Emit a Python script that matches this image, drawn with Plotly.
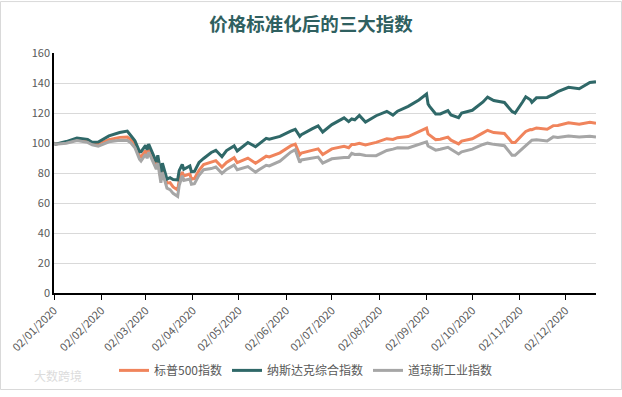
import plotly.graph_objects as go

dates = ["2020-01-02","2020-01-03","2020-01-10","2020-01-17","2020-01-24","2020-01-27","2020-01-31",
"2020-02-07","2020-02-14","2020-02-19","2020-02-21","2020-02-24","2020-02-27","2020-02-28",
"2020-03-02","2020-03-03","2020-03-04","2020-03-06","2020-03-09","2020-03-10","2020-03-12","2020-03-13",
"2020-03-16","2020-03-18","2020-03-20","2020-03-23","2020-03-24","2020-03-26","2020-03-27","2020-03-31",
"2020-04-01","2020-04-03","2020-04-06","2020-04-09","2020-04-14","2020-04-17","2020-04-21","2020-04-24","2020-04-29",
"2020-05-01","2020-05-08","2020-05-13","2020-05-15","2020-05-20","2020-05-22","2020-05-29",
"2020-06-05","2020-06-08","2020-06-11","2020-06-12","2020-06-19","2020-06-23","2020-06-26",
"2020-07-02","2020-07-10","2020-07-13","2020-07-15","2020-07-17","2020-07-20","2020-07-24","2020-07-31",
"2020-08-07","2020-08-11","2020-08-14","2020-08-21","2020-08-28",
"2020-09-02","2020-09-03","2020-09-04","2020-09-08","2020-09-11","2020-09-16","2020-09-18","2020-09-23","2020-09-25",
"2020-10-02","2020-10-09","2020-10-12","2020-10-16","2020-10-23","2020-10-28","2020-10-30",
"2020-11-04","2020-11-06","2020-11-09","2020-11-10","2020-11-13","2020-11-20","2020-11-24","2020-11-27",
"2020-12-04","2020-12-11","2020-12-18","2020-12-22"]

sp500 = [3257.85,3234.85,3265.35,3329.62,3295.47,3243.63,3225.52,
3327.71,3380.16,3386.15,3337.75,3225.89,2978.76,2954.22,
3090.23,3003.37,3130.12,2972.37,2746.56,2882.23,2480.64,2711.02,
2386.13,2398.10,2304.92,2237.40,2447.33,2630.07,2541.47,2584.59,
2470.50,2488.65,2663.68,2789.82,2846.06,2874.56,2736.56,2836.74,2939.51,
2830.71,2929.80,2820.00,2863.70,2971.61,2955.45,3044.31,
3193.93,3232.39,3002.10,3041.31,3097.74,3131.29,3009.05,
3130.01,3185.04,3155.22,3226.56,3224.73,3251.84,3215.63,3271.12,
3351.28,3333.69,3372.85,3397.16,3508.01,
3580.84,3455.06,3426.96,3331.84,3340.97,3385.49,3319.47,3236.92,3298.46,
3348.44,3477.13,3534.22,3483.81,3465.39,3271.03,3269.96,
3443.44,3509.44,3550.50,3545.53,3585.15,3557.54,3635.41,3638.35,
3699.12,3663.46,3709.41,3687.26]

nasdaq = [9092.19,9020.77,9178.86,9388.94,9314.91,9139.31,9150.94,
9520.51,9731.18,9817.18,9576.59,9221.28,8566.48,8567.37,
8952.17,8684.09,9018.09,8575.62,7950.68,8344.25,7201.80,7874.88,
6904.59,6989.84,6879.52,6860.67,7417.86,7797.54,7502.38,7700.10,
7360.58,7373.08,7913.24,8153.58,8515.74,8650.14,8263.23,8634.52,8914.71,
8604.95,9121.32,8863.17,9014.56,9375.78,9324.59,9489.87,
9814.08,9924.75,9492.73,9588.81,9946.12,10131.37,9757.22,
10207.63,10617.44,10390.84,10550.49,10503.19,10767.09,10363.18,10745.27,
11010.98,10782.82,11019.30,11311.80,11695.63,
12056.44,11458.10,11313.13,10847.69,10853.55,11050.47,10793.28,10632.99,10913.56,
11075.02,11579.94,11876.26,11671.56,11548.28,11004.87,10911.59,
11590.78,11895.23,11713.78,11553.86,11829.29,11854.97,12036.79,12205.85,
12464.23,12377.87,12755.64,12807.92]

dow = [28868.80,28634.88,28823.77,29348.10,28989.73,28535.80,28256.03,
29102.51,29398.08,29348.03,28992.41,27960.80,25766.64,25409.36,
26703.32,25917.41,27090.86,25864.78,23851.02,25018.16,21200.62,23185.62,
20188.52,19898.92,19173.98,18591.93,20704.91,22552.17,21636.78,21917.16,
20943.51,21052.53,22679.99,23719.37,23949.76,24242.49,23018.88,23775.27,24633.86,
23723.69,24331.32,23247.97,23685.42,24575.90,24465.16,25383.11,
27110.98,27572.44,25128.17,25605.54,25871.46,26156.10,25015.55,
25827.36,26075.30,26085.80,26870.10,26671.95,26680.87,26469.89,26428.32,
27433.48,27686.91,27931.02,27930.33,28653.87,
29100.50,28292.73,28133.31,27500.89,27665.64,28032.38,27657.42,26763.13,27173.96,
27682.81,28586.90,28837.52,28606.31,28335.57,26519.95,26501.60,
27847.66,28323.40,29157.97,29420.92,29479.81,29263.48,30046.24,29910.37,
30218.26,30046.37,30179.05,30015.51]

series_names = ["标普500指数", "纳斯达克综合指数", "道琼斯工业指数"]
tick_dates = ["2020-%02d-02" % m for m in range(1, 13)]
tick_labels = ["02/%02d/2020" % m for m in range(1, 13)]
y_ticks = [0, 20, 40, 60, 80, 100, 120, 140, 160]

def norm(v):
    return [x / v[0] * 100 for x in v]

colors = ["#F0845C", "#2F6868", "#A6A6A6"]
fig = go.Figure()
for name, vals, c in zip(series_names, [sp500, nasdaq, dow], colors):
    fig.add_trace(go.Scatter(x=dates, y=norm(vals), name=name, mode="lines",
                             line=dict(color=c, width=3)))

W, H = 622, 397
L, R, T, B = 54, 26, 53, 99
pw, ph = W - L - R, H - T - B

fig.update_layout(
    width=W, height=H,
    margin=dict(l=L, r=R, t=T, b=B),
    paper_bgcolor="white", plot_bgcolor="white",
    font=dict(family="Noto Sans CJK SC, Noto Sans, sans-serif", color="#595959", size=11),
    title=dict(text="<b>价格标准化后的三大指数</b>", x=0.5, xref="container", xanchor="center",
               y=1 - 25 / H, yanchor="middle",
               font=dict(size=18.5, color="#2F6060", family="Noto Sans CJK SC")),
    showlegend=True,
    legend=dict(orientation="h", x=(306 - L) / pw, xanchor="center", y=-(377 - T - ph) / ph,
                yanchor="middle", font=dict(size=12, color="#595959"),
                itemwidth=30, tracegroupgap=0, bgcolor="rgba(0,0,0,0)"),
    xaxis=dict(type="date", range=[dates[0], dates[-1]], tickvals=tick_dates, ticktext=tick_labels,
               tickangle=-45, ticks="outside", ticklen=5, tickcolor="#000000",
               showline=True, linecolor="#000000", linewidth=1.5, showgrid=False,
               tickfont=dict(size=11, color="#595959"), zeroline=False, automargin=False),
    yaxis=dict(range=[0, 160], tickvals=y_ticks, showline=True, linecolor="#000000", linewidth=1.5,
               showgrid=True, gridcolor="#D9D9D9", gridwidth=1, ticks="", zeroline=False,
               tickfont=dict(size=11, color="#595959"), automargin=False),
)

# outer chart border
fig.add_shape(type="rect", xref="paper", yref="paper",
              x0=(0.5 - L) / pw, x1=(W - 0.5 - L) / pw,
              y0=-(H - 0.5 - T - ph) / ph, y1=(ph + T - 0.5) / ph,
              line=dict(color="#D9D9D9", width=1), layer="below")

# watermark
fig.add_annotation(text="大数跨境", xref="paper", yref="paper",
                   x=(32 - L) / pw, y=-(382 - T - ph) / ph, xanchor="left", yanchor="middle",
                   showarrow=False, font=dict(size=12, color="#DCDCDC"))

fig.write_html("out.html", config={"displayModeBar": False},
               post_script="document.body.style.margin='0';")
